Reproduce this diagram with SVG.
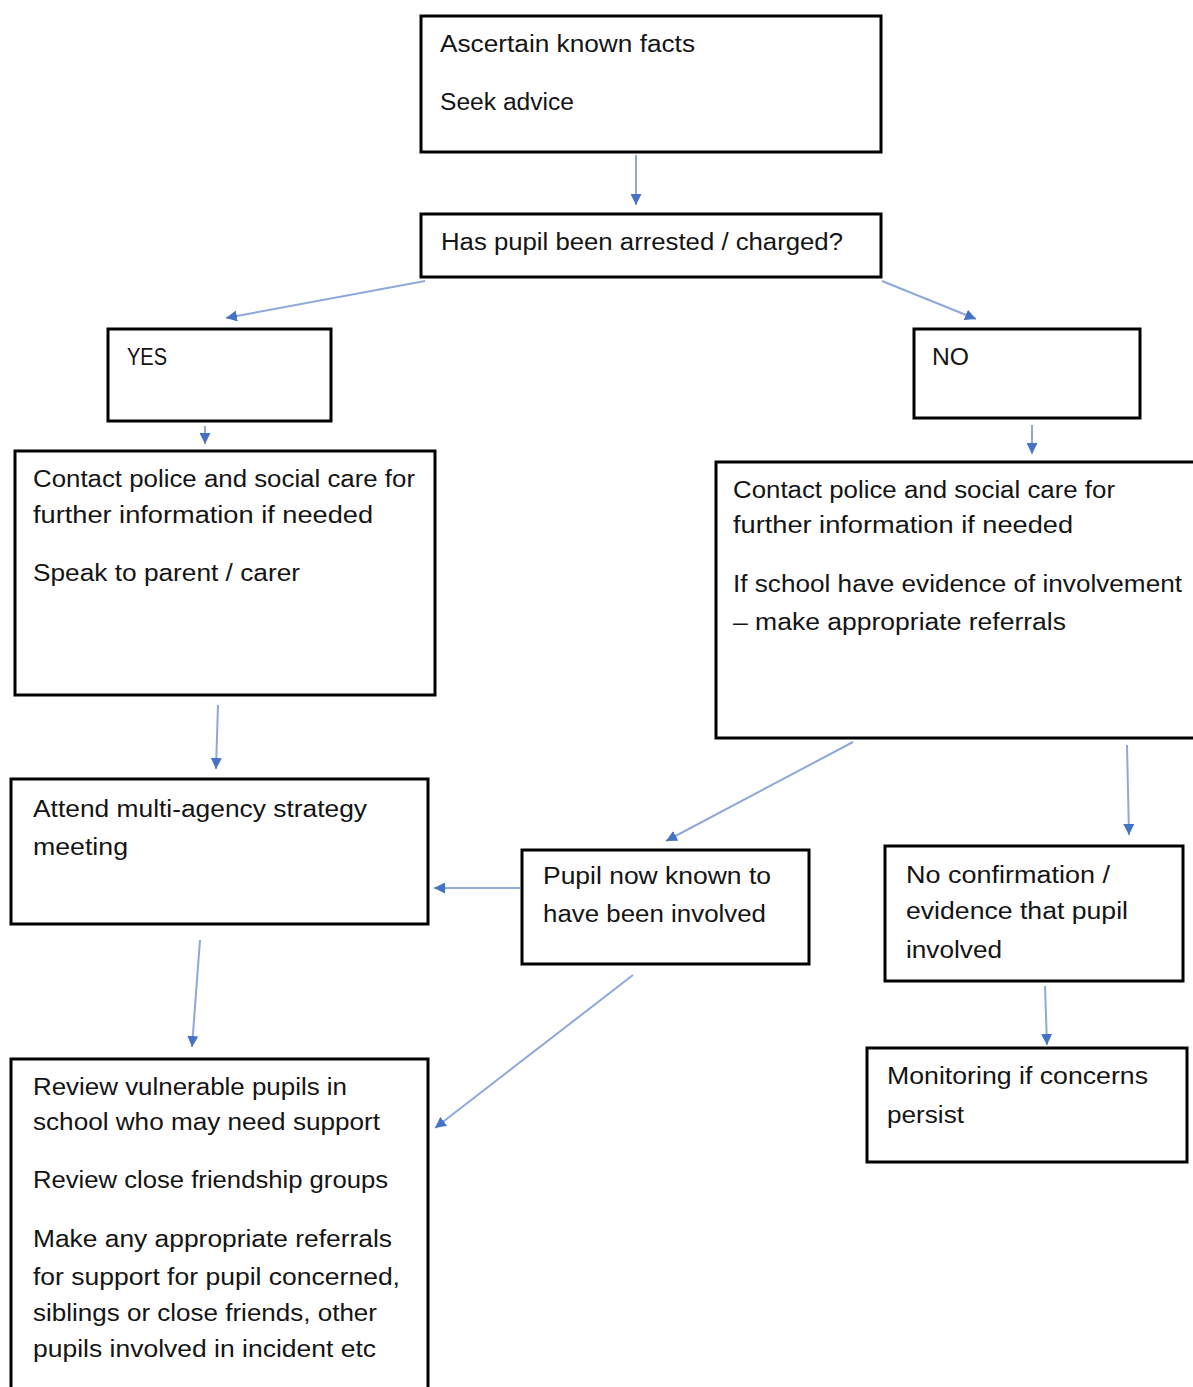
<svg xmlns="http://www.w3.org/2000/svg" width="1193" height="1387" viewBox="0 0 1193 1387">
<style>
.box{fill:#fff;stroke:#000;stroke-width:3}
.t{font-family:"Liberation Sans",Arial,sans-serif;font-size:23px;fill:#141414}
.c{fill:none;stroke:#8fa8dc;stroke-width:2}
</style>
<defs>
<marker id="ah" viewBox="0 0 10 10" refX="10" refY="5" markerWidth="11" markerHeight="11" markerUnits="userSpaceOnUse" orient="auto">
<path d="M0,0 L10,5 L0,10 z" fill="#4472c4"/>
</marker>
</defs>
<rect width="1193" height="1387" fill="#fff"/>
<g id="connectors">
<line class="c" x1="636" y1="155" x2="636" y2="205" marker-end="url(#ah)"/>
<line class="c" x1="425" y1="281" x2="226" y2="318" marker-end="url(#ah)"/>
<line class="c" x1="882" y1="281" x2="976" y2="319" marker-end="url(#ah)"/>
<line class="c" x1="205" y1="426" x2="205" y2="444" marker-end="url(#ah)"/>
<line class="c" x1="1032" y1="425" x2="1032" y2="454" marker-end="url(#ah)"/>
<line class="c" x1="218" y1="705" x2="216" y2="769" marker-end="url(#ah)"/>
<line class="c" x1="853" y1="742" x2="666" y2="841" marker-end="url(#ah)"/>
<line class="c" x1="1127" y1="745" x2="1129" y2="835" marker-end="url(#ah)"/>
<line class="c" x1="520" y1="888" x2="434" y2="888" marker-end="url(#ah)"/>
<line class="c" x1="200" y1="940" x2="192" y2="1047" marker-end="url(#ah)"/>
<line class="c" x1="633" y1="975" x2="435" y2="1128" marker-end="url(#ah)"/>
<line class="c" x1="1045" y1="986" x2="1047" y2="1045" marker-end="url(#ah)"/>
</g>
<g id="n1">
<rect class="box" x="421" y="16" width="460" height="136"/>
<text class="t" x="440" y="52" textLength="255" lengthAdjust="spacingAndGlyphs">Ascertain known facts</text>
<text class="t" x="440" y="110" textLength="134" lengthAdjust="spacingAndGlyphs">Seek advice</text>
</g>
<g id="n2">
<rect class="box" x="421" y="214" width="460" height="63"/>
<text class="t" x="441" y="250" textLength="402" lengthAdjust="spacingAndGlyphs">Has pupil been arrested / charged?</text>
</g>
<g id="yes">
<rect class="box" x="108" y="329" width="223" height="92"/>
<text class="t" x="127" y="365" textLength="40" lengthAdjust="spacingAndGlyphs">YES</text>
</g>
<g id="no">
<rect class="box" x="914" y="329" width="226" height="89"/>
<text class="t" x="932" y="365" textLength="37" lengthAdjust="spacingAndGlyphs">NO</text>
</g>
<g id="yes-action">
<rect class="box" x="15" y="451" width="420" height="244"/>
<text class="t" x="33" y="487" textLength="382" lengthAdjust="spacingAndGlyphs">Contact police and social care for</text>
<text class="t" x="33" y="523" textLength="340" lengthAdjust="spacingAndGlyphs">further information if needed</text>
<text class="t" x="33" y="581" textLength="267" lengthAdjust="spacingAndGlyphs">Speak to parent / carer</text>
</g>
<g id="no-action">
<rect class="box" x="716" y="462" width="490" height="276"/>
<text class="t" x="733" y="498" textLength="382" lengthAdjust="spacingAndGlyphs">Contact police and social care for</text>
<text class="t" x="733" y="533" textLength="340" lengthAdjust="spacingAndGlyphs">further information if needed</text>
<text class="t" x="733" y="592" textLength="449" lengthAdjust="spacingAndGlyphs">If school have evidence of involvement</text>
<text class="t" x="733" y="630" textLength="333" lengthAdjust="spacingAndGlyphs">– make appropriate referrals</text>
</g>
<g id="attend">
<rect class="box" x="11" y="779" width="417" height="145"/>
<text class="t" x="33" y="817" textLength="334" lengthAdjust="spacingAndGlyphs">Attend multi-agency strategy</text>
<text class="t" x="33" y="855" textLength="95" lengthAdjust="spacingAndGlyphs">meeting</text>
</g>
<g id="pupil-known">
<rect class="box" x="522" y="850" width="287" height="114"/>
<text class="t" x="543" y="884" textLength="228" lengthAdjust="spacingAndGlyphs">Pupil now known to</text>
<text class="t" x="543" y="922" textLength="223" lengthAdjust="spacingAndGlyphs">have been involved</text>
</g>
<g id="no-confirmation">
<rect class="box" x="885" y="846" width="298" height="135"/>
<text class="t" x="906" y="883" textLength="204" lengthAdjust="spacingAndGlyphs">No confirmation /</text>
<text class="t" x="906" y="919" textLength="222" lengthAdjust="spacingAndGlyphs">evidence that pupil</text>
<text class="t" x="906" y="958" textLength="96" lengthAdjust="spacingAndGlyphs">involved</text>
</g>
<g id="monitoring">
<rect class="box" x="867" y="1048" width="320" height="114"/>
<text class="t" x="887" y="1084" textLength="261" lengthAdjust="spacingAndGlyphs">Monitoring if concerns</text>
<text class="t" x="887" y="1123" textLength="77" lengthAdjust="spacingAndGlyphs">persist</text>
</g>
<g id="review">
<rect class="box" x="11" y="1059" width="417" height="340"/>
<text class="t" x="33" y="1095" textLength="314" lengthAdjust="spacingAndGlyphs">Review vulnerable pupils in</text>
<text class="t" x="33" y="1130" textLength="347" lengthAdjust="spacingAndGlyphs">school who may need support</text>
<text class="t" x="33" y="1188" textLength="355" lengthAdjust="spacingAndGlyphs">Review close friendship groups</text>
<text class="t" x="33" y="1247" textLength="359" lengthAdjust="spacingAndGlyphs">Make any appropriate referrals</text>
<text class="t" x="33" y="1285" textLength="367" lengthAdjust="spacingAndGlyphs">for support for pupil concerned,</text>
<text class="t" x="33" y="1321" textLength="344" lengthAdjust="spacingAndGlyphs">siblings or close friends, other</text>
<text class="t" x="33" y="1357" textLength="343" lengthAdjust="spacingAndGlyphs">pupils involved in incident etc</text>
</g>
</svg>
